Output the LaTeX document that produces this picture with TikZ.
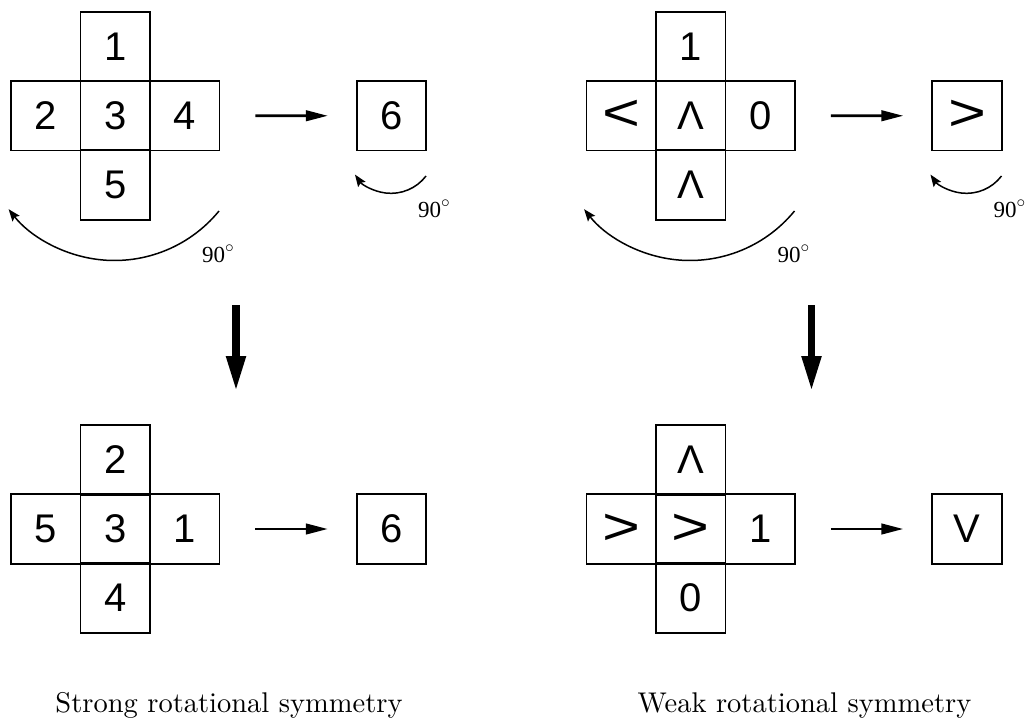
\documentclass[tikz,border=0pt]{standalone}
\usepackage{fontspec}
\newfontfamily\cellfont{Liberation Sans}
\newfontfamily\degfont{Liberation Serif}
\newfontfamily\capfont{lmroman10-regular}[Extension=.otf]
\usetikzlibrary{arrows.meta}
\begin{document}
\begin{tikzpicture}[x=1pt,y=-1pt,
  cell/.style={draw, line width=1.8pt, minimum width=69.5pt, minimum height=69.5pt,
    inner sep=0pt, font=\cellfont\fontsize{40}{40}\selectfont},
  harrow/.style={line width=2.7pt, -{Triangle[length=22pt,width=10.5pt]},
    shorten <=35pt, shorten >=28pt},
  varrow/.style={line width=7.7pt, -{Triangle[length=36pt,width=18pt]}},
  rarrow/.style={line width=1.5pt, -{Stealth[length=12pt,width=9pt,inset=2pt]}},
  deg/.style={anchor=base west, inner sep=0pt, font=\degfont\fontsize{23}{23}\selectfont},
  caption/.style={anchor=base, inner sep=0pt, font=\capfont\fontsize{28.5}{28.5}\selectfont}]
\useasboundingbox (0,0) rectangle (1029,720);
\newcommand{\bigsym}[1]{\scalebox{1.25}[1]{\fontsize{52}{52}\selectfont #1}}
% ---------- Left top
\node[cell] (T1) at (115.2,46.5) {1};
\node[cell] (T2) at (45.7,115.7) {2};
\node[cell] (T3) at (115.2,115.7) {3};
\node[cell] (T4) at (184.7,115.7) {4};
\node[cell] (T5) at (115.2,185) {5};
\node[cell] (T6) at (391.5,115.8) {6};
\draw[harrow] (T4) -- (T6);
\coordinate (TA) at (219,211);
\draw[rarrow] (TA) arc[start angle=-39.3, end angle=-141.7, radius=135pt];
\coordinate (TS) at (426,176);
\draw[rarrow] (TS) arc[start angle=-37.3, end angle=-145, radius=44pt];
\node[deg] (TAl) at (202,262) {90$^{\circ}$};
\node[deg] (TSl) at (418,217) {90$^{\circ}$};
\coordinate (LDs) at (236,305);
\coordinate (LDe) at (236,392);
\draw[varrow] (LDs) -- (LDe);
% ---------- Left bottom
\node[cell] (B2) at (115.2,460) {2};
\node[cell] (B5) at (45.7,529) {5};
\node[cell] (B3) at (115.2,529) {3};
\node[cell] (B1) at (184.7,529) {1};
\node[cell] (B4) at (115.2,598) {4};
\node[cell] (B6) at (391.5,529) {6};
\draw[harrow] (B1) -- (B6);
\node[caption] (CapL) at (229,712) {Strong rotational symmetry};
% ---------- Right top
\node[cell] (RT1) at (690.7,46.5) {1};
\node[cell] (RT2) at (621.2,115.7) {\bigsym{<}};
\node[cell] (RT3) at (690.7,115.7) {\raisebox{-4pt}{Λ}};
\node[cell] (RT4) at (760.2,115.7) {0};
\node[cell] (RT5) at (690.7,185) {\raisebox{-2pt}{Λ}};
\node[cell] (RT6) at (967,115.8) {\bigsym{>}};
\draw[harrow] (RT4) -- (RT6);
\coordinate (RTA) at (794.5,211);
\draw[rarrow] (RTA) arc[start angle=-39.3, end angle=-141.7, radius=135pt];
\coordinate (RTS) at (1001.5,176);
\draw[rarrow] (RTS) arc[start angle=-37.3, end angle=-145, radius=44pt];
\node[deg] (RTAl) at (777.5,262) {90$^{\circ}$};
\node[deg] (RTSl) at (993.5,217) {90$^{\circ}$};
\coordinate (RDs) at (811.5,305);
\coordinate (RDe) at (811.5,392);
\draw[varrow] (RDs) -- (RDe);
% ---------- Right bottom
\node[cell] (RB2) at (690.7,460) {\raisebox{-2pt}{Λ}};
\node[cell] (RB5) at (621.2,529) {\bigsym{>}};
\node[cell] (RB3) at (690.7,529) {\bigsym{>}};
\node[cell] (RB1) at (760.2,529) {1};
\node[cell] (RB4) at (690.7,598) {0};
\node[cell] (RB6) at (967,529) {V};
\draw[harrow] (RB1) -- (RB6);
\node[caption] (CapR) at (804.5,712) {Weak rotational symmetry};
\end{tikzpicture}
\end{document}
